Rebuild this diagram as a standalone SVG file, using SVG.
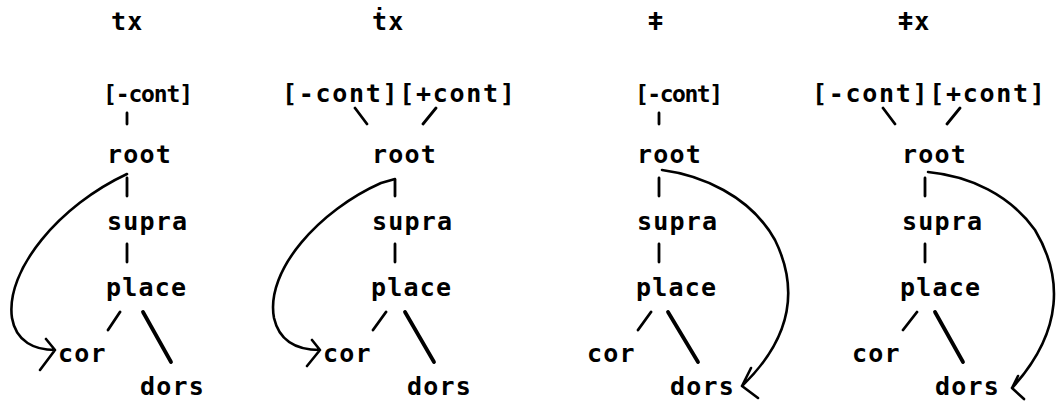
<svg xmlns="http://www.w3.org/2000/svg" width="1062" height="401" viewBox="0 0 1062 401">
<style>
.t{font-family:"DejaVu Sans Mono","Liberation Mono",monospace;font-weight:bold;font-size:25px;letter-spacing:1.2px;fill:#000}
.s{font-size:23px;letter-spacing:0}
.l{stroke:#000;stroke-width:2.8;fill:none;stroke-linecap:round}
.k{stroke:#000;stroke-width:3.8;fill:none;stroke-linecap:round}
.c{stroke:#000;stroke-width:2.6;fill:none;stroke-linecap:round;stroke-linejoin:round}
</style>
<rect width="1062" height="401" fill="#fff"/>
<g id="col1">
<text class="t" x="111" y="30">tx</text>
<text class="t s" x="103" y="102" textLength="90" lengthAdjust="spacing">[-cont]</text>
<text class="t" x="107" y="163">root</text>
<text class="t" x="107" y="230">supra</text>
<text class="t" x="106" y="296">place</text>
<text class="t" x="58" y="362">cor</text>
<text class="t" x="140" y="395">dors</text>
</g>
<g id="col2">
<text class="t" x="372" y="30">ṫx</text>
<text class="t" x="282" y="102" textLength="234" lengthAdjust="spacing">[-cont][+cont]</text>
<text class="t" x="372" y="163">root</text>
<text class="t" x="372" y="230">supra</text>
<text class="t" x="371" y="296">place</text>
<text class="t" x="323" y="362">cor</text>
<text class="t" x="407" y="395">dors</text>
</g>
<g id="col3">
<text class="t" x="648" y="30">ǂ</text>
<text class="t s" x="635" y="102" textLength="88" lengthAdjust="spacing">[-cont]</text>
<text class="t" x="637" y="163">root</text>
<text class="t" x="637" y="230">supra</text>
<text class="t" x="636" y="296">place</text>
<text class="t" x="587" y="362">cor</text>
<text class="t" x="670" y="395">dors</text>
</g>
<g id="col4">
<text class="t" x="898" y="30">ǂx</text>
<text class="t" x="812" y="102" textLength="234" lengthAdjust="spacing">[-cont][+cont]</text>
<text class="t" x="902" y="163">root</text>
<text class="t" x="902" y="230">supra</text>
<text class="t" x="900" y="296">place</text>
<text class="t" x="852" y="362">cor</text>
<text class="t" x="935" y="395">dors</text>
</g>
<g id="connectors">
<path class="l" d="M127,113V124M127,178V196M127,244V262M120,312L108,330"/>
<path class="k" d="M143,312L171,362"/>
<path class="c" d="M127,174C60,205 5,270 12,318C16,342 35,350 55,350M46,339L55,350L40,370"/>
<path class="l" d="M355,108L367,124M436,108L423,124M395,180V196M395,244V262M386,312L373,330"/>
<path class="k" d="M405,312L434,362"/>
<path class="c" d="M395,179L381,183C320,210 265,270 274,318C279,340 295,350 320,350M312,340L320,350L307,366"/>
<path class="l" d="M659,113V124M659,178V196M659,244V262M651,312L638,330"/>
<path class="k" d="M668,312L698,362"/>
<path class="c" d="M662,170C700,175 750,195 775,240C797,285 795,335 742,386M751,368L742,386L758,398"/>
<path class="l" d="M883,108L895,124M960,108L947,124M925,178V196M925,244V262M917,312L903,330"/>
<path class="k" d="M935,312L963,362"/>
<path class="c" d="M928,172C970,176 1010,195 1035,230C1062,275 1065,330 1012,388M1018,376L1012,388L1024,399"/>
</g>
</svg>
